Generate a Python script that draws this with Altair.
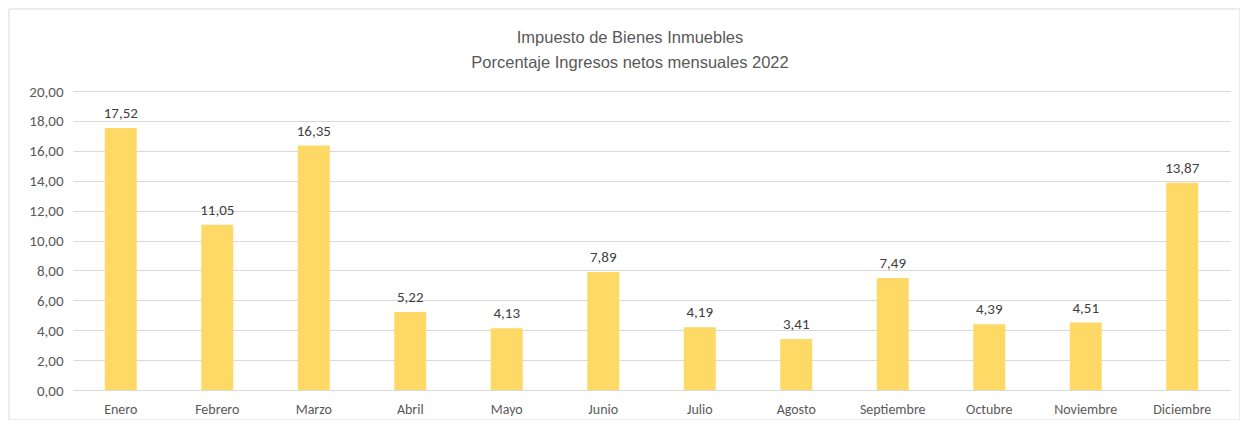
import altair as alt
import pandas as pd

meses = ["Enero", "Febrero", "Marzo", "Abril", "Mayo", "Junio", "Julio",
         "Agosto", "Septiembre", "Octubre", "Noviembre", "Diciembre"]
valores = [17.52, 11.05, 16.35, 5.22, 4.13, 7.89, 4.19, 3.41, 7.49, 4.39, 4.51, 13.87]
titulo = ["Impuesto de Bienes Inmuebles", "Porcentaje Ingresos netos mensuales 2022"]
ticks_y = [0, 2, 4, 6, 8, 10, 12, 14, 16, 18, 20]

df = pd.DataFrame({"mes": meses, "valor": valores})

FONT = "Carlito, Calibri, Lato, sans-serif"
GRAY = "#595959"

base = alt.Chart(df).transform_calculate(
    etiqueta="replace(format(datum.valor, '.2f'), '.', ',')"
)

x = alt.X("mes:N", sort=meses, title=None,
          scale=alt.Scale(paddingInner=0.67, paddingOuter=0.33),
          axis=alt.Axis(labelAngle=0, ticks=False, labelPadding=12,
                        domainColor="#d9d9d9", labelColor=GRAY,
                        labelFont=FONT, labelFontSize=14))
y = alt.Y("valor:Q", title=None,
          scale=alt.Scale(domain=[0, 20], nice=False),
          axis=alt.Axis(values=ticks_y, ticks=False, domain=False,
                        labelOverlap=False,
                        labelExpr="replace(format(datum.value, '.2f'), '.', ',')",
                        labelPadding=10, gridColor="#d9d9d9", labelColor=GRAY,
                        labelFont=FONT, labelFontSize=15))

bars = base.mark_bar(color="#FFD966", size=32).encode(x=x, y=y)

text = base.mark_text(dy=-15, font=FONT, fontSize=15, color="#404040").encode(
    x=x, y=y, text="etiqueta:N")

border = alt.Chart(pd.DataFrame({"a": [0]})).mark_rect(
    fill=None, stroke="#d9d9d9", strokeWidth=1, clip=False
).encode(x=alt.value(-64), x2=alt.value(1167), y=alt.value(-82), y2=alt.value(329))

TFONT = "Liberation Sans Narrow, Arial Narrow, Liberation Sans, sans-serif"
title_marks = []
for linea, ypos in zip(titulo, [-53, -28]):
    title_marks.append(
        alt.Chart(pd.DataFrame({"linea": [linea]})).mark_text(
            font=TFONT, fontSize=16.5, color=GRAY, align="center",
            baseline="middle", clip=False
        ).encode(x=alt.value(557), y=alt.value(ypos), text="linea:N")
    )

chart = alt.layer(bars, text, border, *title_marks).properties(
    width=1157, height=299,
    autosize=alt.AutoSizeParams(type="none"),
    padding={"left": 65, "top": 83, "right": 10, "bottom": 30},
).configure_view(stroke=None)

chart.save("out.html", embed_options={"renderer": "svg", "actions": False})
